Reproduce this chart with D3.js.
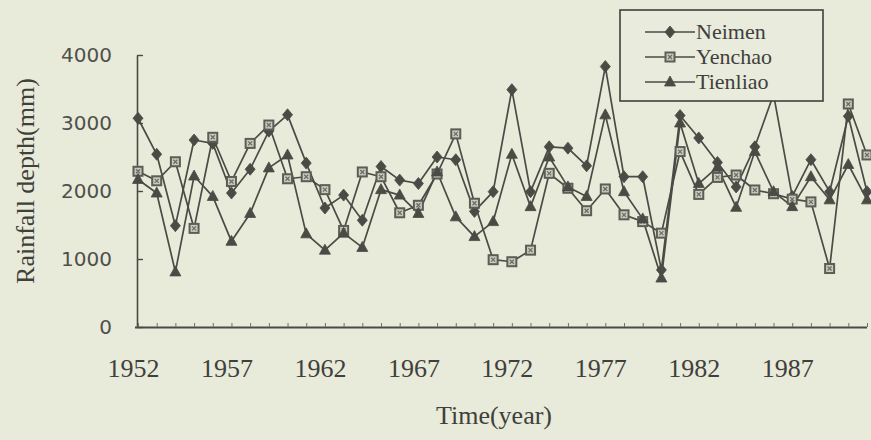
<!DOCTYPE html>
<html>
<head>
<meta charset="utf-8">
<script src="https://cdn.jsdelivr.net/npm/d3@7"></script>
<style>
  html, body { margin: 0; padding: 0; background: #e8eada; }
  svg { display: block; }
</style>
</head>
<body>
<svg id="chart" width="871" height="440"></svg>
<script>
// Annual rainfall depth (mm) at three stations, 1952-1991
const years = d3.range(1952, 1992);
const neimen = [3070, 2540, 1490, 2750, 2700, 1970, 2320, 2880, 3120, 2410,
                1750, 1940, 1570, 2360, 2160, 2110, 2500, 2460, 1700, 1990,
                3490, 1990, 2650, 2630, 2370, 3830, 2210, 2210, 840, 3110,
                2780, 2420, 2060, 2650, 3420, 1920, 2460, 1990, 3100, 1990];
const yenchao = [2290, 2150, 2430, 1450, 2790, 2140, 2700, 2970, 2180, 2210,
                 2020, 1420, 2280, 2210, 1680, 1790, 2250, 2840, 1820, 990,
                 960, 1130, 2260, 2040, 1710, 2030, 1650, 1550, 1380, 2580,
                 1950, 2200, 2235, 2015, 1960, 1880, 1840, 860, 3280, 2530];
const tienliao = [2170, 1970, 810, 2220, 1920, 1260, 1670, 2340, 2530, 1370,
                  1130, 1380, 1170, 2020, 1940, 1670, 2280, 1620, 1330, 1550,
                  2540, 1770, 2500, 2060, 1920, 3120, 1990, 1590, 720, 3000,
                  2110, 2350, 1760, 2580, 1990, 1770, 2210, 1870, 2390, 1870];
const seriesNames = ["Neimen", "Yenchao", "Tienliao"];
const yTicks = [0, 1000, 2000, 3000, 4000];
const xLabelYears = [1952, 1957, 1962, 1967, 1972, 1977, 1982, 1987];

const series = [
  { name: seriesNames[0], values: neimen, marker: "diamond" },
  { name: seriesNames[1], values: yenchao, marker: "square" },
  { name: seriesNames[2], values: tienliao, marker: "triangle" }
];

const ink = "#4a4b45";
const serif = "'Liberation Serif', 'Times New Roman', serif";
const svg = d3.select("#chart");

const x = d3.scaleLinear().domain([1952, 1991]).range([138, 867]);
const y = d3.scaleLinear().domain([0, 4000]).range([327, 55]);

// y axis: inward ticks, sans-serif numbers
const yAxis = svg.append("g")
  .attr("transform", "translate(137,0)")
  .call(d3.axisLeft(y).tickValues(yTicks).tickSizeInner(-6).tickSizeOuter(0).tickPadding(25)
    .tickFormat(d3.format("d")));
yAxis.select(".domain").attr("stroke", ink).attr("stroke-width", 1.6);
yAxis.selectAll(".tick line").attr("stroke", ink).attr("stroke-width", 1.4);
yAxis.selectAll(".tick text")
  .attr("fill", "#4f504b")
  .style("font-family", "'DejaVu Sans', sans-serif")
  .style("font-size", "20px");

// x axis: one small tick per year, pointing up
const xAxis = svg.append("g")
  .attr("transform", "translate(0,327)")
  .call(d3.axisBottom(x).tickValues(years).tickSizeInner(-4).tickSizeOuter(0).tickFormat(""));
xAxis.select(".domain").attr("stroke", ink).attr("stroke-width", 1.8)
  .attr("d", "M135,0.5H867");
xAxis.selectAll(".tick line").attr("stroke", "#6f706a").attr("stroke-width", 1);

// year labels every five years
const xLabels = svg.append("g")
  .attr("transform", "translate(0,327)")
  .call(d3.axisBottom(x).tickValues(xLabelYears).tickSize(0).tickPadding(32).tickFormat(d3.format("d")));
xLabels.select(".domain").remove();
xLabels.selectAll(".tick text")
  .attr("fill", "#3f403b")
  .attr("dx", -5)
  .style("font-family", serif)
  .style("font-size", "26px");

// axis titles
svg.append("text")
  .attr("transform", "translate(34,181) rotate(-90)")
  .attr("text-anchor", "middle")
  .attr("fill", "#3f403b")
  .style("font-family", serif)
  .style("font-size", "26px")
  .text("Rainfall depth(mm)");
svg.append("text")
  .attr("x", 494).attr("y", 424)
  .attr("text-anchor", "middle")
  .attr("fill", "#3f403b")
  .style("font-family", serif)
  .style("font-size", "26px")
  .text("Time(year)");

// marker drawing
function drawMarker(g, type) {
  if (type === "diamond") {
    g.append("path").attr("d", "M0,-6L5,0L0,6L-5,0Z").attr("fill", ink).attr("stroke", ink).attr("stroke-width", 0.8);
  } else if (type === "triangle") {
    g.append("path").attr("d", "M0,-6L5.5,4L-5.5,4Z").attr("fill", ink).attr("stroke", ink).attr("stroke-width", 0.8);
  } else {
    g.append("rect").attr("x", -5.5).attr("y", -5.5).attr("width", 11).attr("height", 11)
      .attr("fill", "#5c5d56");
    g.append("rect").attr("x", -3.5).attr("y", -3.5).attr("width", 7).attr("height", 7)
      .attr("fill", "#c9cbbc");
    g.append("path").attr("d", "M-2,-2L2,2M2,-2L-2,2").attr("stroke", "#6a6b63").attr("stroke-width", 1.2);
  }
}

const line = d3.line().x((d, i) => x(years[i])).y(d => y(d));

series.forEach(s => {
  svg.append("path")
    .datum(s.values)
    .attr("fill", "none")
    .attr("stroke", ink)
    .attr("stroke-width", 1.7)
    .attr("stroke-linejoin", "round")
    .attr("d", line);
});
series.forEach(s => {
  svg.append("g").selectAll("g")
    .data(s.values)
    .join("g")
    .attr("transform", (d, i) => `translate(${x(years[i])},${y(d)})`)
    .each(function () { drawMarker(d3.select(this), s.marker); });
});

// legend
const legend = svg.append("g");
legend.append("rect")
  .attr("x", 620).attr("y", 10).attr("width", 203).attr("height", 91)
  .attr("fill", "#e9ebdc").attr("stroke", "#3f403b").attr("stroke-width", 1.6);
const rowY = [32, 57, 82];
series.forEach((s, k) => {
  const row = legend.append("g").attr("transform", `translate(0,${rowY[k]})`);
  row.append("line").attr("x1", 645).attr("x2", 695).attr("y1", 0).attr("y2", 0)
    .attr("stroke", ink).attr("stroke-width", 1.7);
  drawMarker(row.append("g").attr("transform", "translate(670,0)"), s.marker);
  row.append("text")
    .attr("x", 696).attr("y", 7)
    .attr("fill", "#3f403b")
    .style("font-family", serif)
    .style("font-size", "22px")
    .text(s.name);
});
</script>
</body>
</html>
